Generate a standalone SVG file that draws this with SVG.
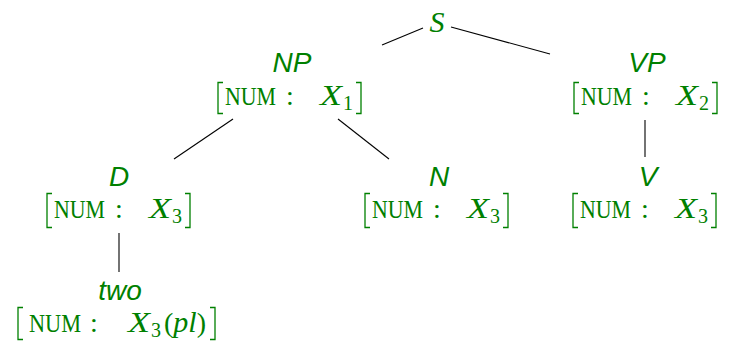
<svg xmlns="http://www.w3.org/2000/svg" width="732" height="345" viewBox="0 0 732 345">
<style>
.lbl{font-family:"Liberation Sans",Arial,sans-serif;font-style:italic;font-size:28px;fill:#008000;text-anchor:middle}
.s{font-family:"Liberation Serif","Times New Roman",serif;font-style:italic;font-size:30px;fill:#008000;text-anchor:middle}
.num{font-family:"Liberation Serif","Times New Roman",serif;font-size:26px;fill:#008000}
.col{font-family:"Liberation Serif","Times New Roman",serif;font-size:28px;fill:#008000}
.x{font-family:"Liberation Serif","Times New Roman",serif;font-style:italic;font-size:30px;fill:#008000}
.sub{font-family:"Liberation Serif","Times New Roman",serif;font-size:20px;fill:#008000}
.br{fill:none;stroke:#008000;stroke-width:1.3}
.edge{stroke:#000;stroke-width:1.1;fill:none}
</style>
<g id="connectors">
<line class="edge" x1="382" y1="45" x2="423" y2="28"/>
<line class="edge" x1="451" y1="27" x2="550" y2="54"/>
<line class="edge" x1="233" y1="119" x2="174" y2="159"/>
<line class="edge" x1="338" y1="119" x2="389" y2="159"/>
<line class="edge" x1="645" y1="120" x2="645" y2="157"/>
<line class="edge" x1="119" y1="233" x2="119" y2="272"/>
</g>
<g id="S">
<text class="s" x="437" y="32">S</text>
</g>
<g id="NP">
<text class="lbl" x="292" y="72">NP</text>
<path class="br" d="M223 82.5H218V113.5H223M356 82.5H361V113.5H356"/>
<text class="num" x="225" y="105" textLength="51" lengthAdjust="spacingAndGlyphs">NUM</text>
<text class="col" x="286" y="105">:</text>
<text class="x" x="320" y="105" textLength="22" lengthAdjust="spacingAndGlyphs">X</text>
<text class="sub" x="343" y="110">1</text>
</g>
<g id="VP">
<text class="lbl" x="647" y="72">VP</text>
<path class="br" d="M579 82.5H574V113.5H579M712 82.5H717V113.5H712"/>
<text class="num" x="581" y="105" textLength="51" lengthAdjust="spacingAndGlyphs">NUM</text>
<text class="col" x="642" y="105">:</text>
<text class="x" x="676" y="105" textLength="22" lengthAdjust="spacingAndGlyphs">X</text>
<text class="sub" x="699" y="110">2</text>
</g>
<g id="D">
<text class="lbl" x="119" y="186">D</text>
<path class="br" d="M52 193.5H47V227.5H52M185 193.5H190V227.5H185"/>
<text class="num" x="54" y="218" textLength="51" lengthAdjust="spacingAndGlyphs">NUM</text>
<text class="col" x="115" y="218">:</text>
<text class="x" x="149" y="218" textLength="22" lengthAdjust="spacingAndGlyphs">X</text>
<text class="sub" x="172" y="223">3</text>
</g>
<g id="N">
<text class="lbl" x="439" y="186">N</text>
<path class="br" d="M370 193.5H365V227.5H370M503 193.5H508V227.5H503"/>
<text class="num" x="372" y="218" textLength="51" lengthAdjust="spacingAndGlyphs">NUM</text>
<text class="col" x="433" y="218">:</text>
<text class="x" x="467" y="218" textLength="22" lengthAdjust="spacingAndGlyphs">X</text>
<text class="sub" x="490" y="223">3</text>
</g>
<g id="V">
<text class="lbl" x="648" y="186">V</text>
<path class="br" d="M578 193.5H573V227.5H578M711 193.5H716V227.5H711"/>
<text class="num" x="580" y="218" textLength="51" lengthAdjust="spacingAndGlyphs">NUM</text>
<text class="col" x="641" y="218">:</text>
<text class="x" x="675" y="218" textLength="22" lengthAdjust="spacingAndGlyphs">X</text>
<text class="sub" x="698" y="223">3</text>
</g>
<g id="two">
<text class="lbl" x="120" y="300">two</text>
<path class="br" d="M23 307.5H18V339.5H23M210 307.5H215V339.5H210"/>
<text class="num" x="29" y="332" textLength="52" lengthAdjust="spacingAndGlyphs">NUM</text>
<text class="col" x="90" y="332">:</text>
<text class="x" x="128" y="332" textLength="22" lengthAdjust="spacingAndGlyphs">X</text>
<text class="sub" x="151" y="337">3</text>
<text class="col" x="164" y="332">(<tspan class="x">pl</tspan>)</text>
</g>
</svg>
